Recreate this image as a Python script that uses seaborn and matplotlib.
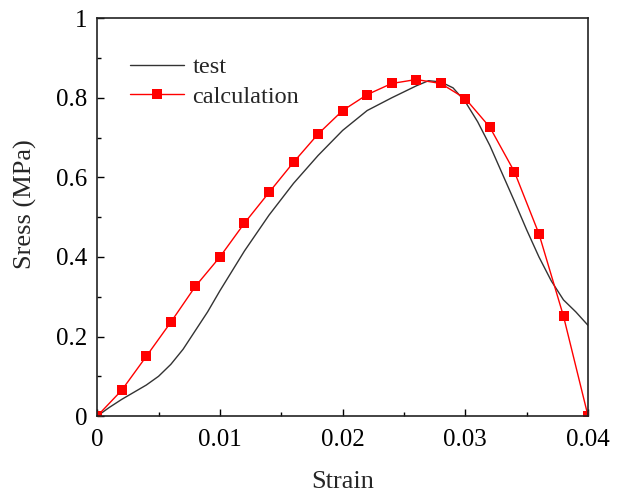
import numpy as np
import pandas as pd
import matplotlib
matplotlib.use("Agg")
import matplotlib.pyplot as plt
from matplotlib.ticker import MultipleLocator, FixedLocator
import seaborn as sns

# Measured stress-strain curve
test_strain = [0.0, 0.001, 0.002, 0.003, 0.004, 0.005, 0.006, 0.007, 0.008, 0.009,
               0.010, 0.012, 0.014, 0.016, 0.018, 0.020, 0.022, 0.024, 0.026, 0.027,
               0.028, 0.029, 0.030, 0.031, 0.032, 0.033, 0.034, 0.035, 0.036, 0.037,
               0.038, 0.039, 0.040]
test_stress = [0.0, 0.022, 0.042, 0.060, 0.078, 0.100, 0.130, 0.168, 0.215, 0.262,
               0.315, 0.415, 0.505, 0.585, 0.655, 0.718, 0.768, 0.800, 0.830, 0.843,
               0.840, 0.825, 0.790, 0.740, 0.680, 0.610, 0.540, 0.468, 0.400, 0.340,
               0.292, 0.262, 0.228]

# Calculated stress-strain points
calc_strain = [0.000, 0.002, 0.004, 0.006, 0.008, 0.010, 0.012, 0.014, 0.016, 0.018,
               0.020, 0.022, 0.024, 0.026, 0.028, 0.030, 0.032, 0.034, 0.036, 0.038,
               0.040]
calc_stress = [0.0, 0.065, 0.150, 0.236, 0.326, 0.400, 0.485, 0.562, 0.638, 0.709,
               0.768, 0.808, 0.836, 0.846, 0.836, 0.798, 0.726, 0.614, 0.458, 0.251,
               0.0]

x_ticks = [0, 0.01, 0.02, 0.03, 0.04]
x_tick_labels = ["0", "0.01", "0.02", "0.03", "0.04"]
y_ticks = [0, 0.2, 0.4, 0.6, 0.8, 1.0]
y_tick_labels = ["0", "0.2", "0.4", "0.6", "0.8", "1"]

sns.set_style("ticks")
plt.rcParams["font.family"] = ["Liberation Serif", "DejaVu Serif"]

fig = plt.figure(figsize=(6.19, 4.93), dpi=100)
ax = fig.add_axes([0.157, 0.156, 0.793, 0.807])

test_df = pd.DataFrame({"Strain": test_strain, "Stress": test_stress})
calc_df = pd.DataFrame({"Strain": calc_strain, "Stress": calc_stress})

sns.lineplot(data=test_df, x="Strain", y="Stress", ax=ax, color="#333333",
             linewidth=1.0, label="test", sort=False)
sns.lineplot(data=calc_df, x="Strain", y="Stress", ax=ax, color="#ff0000",
             linewidth=1.0, marker="s", markersize=7, markeredgewidth=0,
             label="calculation", sort=False)

ax.set_xlim(0, 0.04)
ax.set_ylim(0, 1.0)
ax.xaxis.set_major_locator(FixedLocator(x_ticks))
ax.set_xticklabels(x_tick_labels)
ax.yaxis.set_major_locator(FixedLocator(y_ticks))
ax.set_yticklabels(y_tick_labels)
ax.xaxis.set_minor_locator(MultipleLocator(0.005))
ax.yaxis.set_minor_locator(MultipleLocator(0.1))

ax.tick_params(which="both", direction="in", top=False, right=False,
               labelsize=18, colors="black", width=1.0)
ax.tick_params(which="major", length=5)
ax.tick_params(which="minor", length=3)
ax.tick_params(axis="x", which="major", pad=9)
ax.tick_params(axis="y", which="major", pad=7)
for sp in ax.spines.values():
    sp.set_visible(True)
    sp.set_color("#222222")
    sp.set_linewidth(1.2)

ax.set_xlabel("Strain", fontsize=19)
ax.set_ylabel("Sress (MPa)", fontsize=19)
ax.xaxis.set_label_coords(0.5, -0.137)
ax.yaxis.set_label_coords(-0.122, 0.533)

leg = ax.legend(loc="upper left", frameon=False, fontsize=17.5,
                bbox_to_anchor=(0.067, 0.905), borderpad=0, borderaxespad=0,
                handlelength=2.2, handletextpad=0.37, labelspacing=0.32)

fig.savefig("out.png", dpi=100, facecolor="white")
